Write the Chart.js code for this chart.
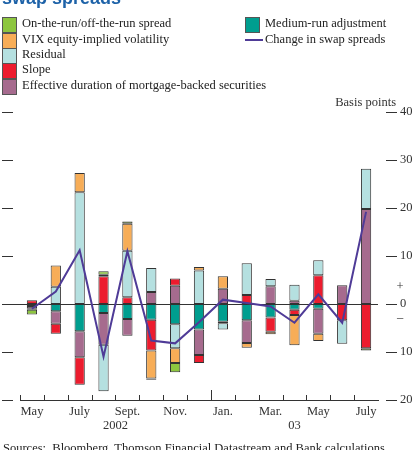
<!DOCTYPE html>
<html>
<head>
<meta charset="utf-8">
<script src="https://cdn.jsdelivr.net/npm/chart.js@4/dist/chart.umd.min.js"></script>
<style>
  body { margin: 0; background: #fff; }
  #wrap { position: relative; width: 416px; height: 450px; overflow: hidden; font-family: "Liberation Serif", serif; color: #222; }
  #wrap canvas { position: absolute; left: 0; top: 0; }
  .title { position: absolute; left: 2px; top: -13px; font: bold 18px "Liberation Sans", Arial, sans-serif; color: #1d62a8; white-space: nowrap; }
  .title sup { font-size: 11px; font-weight: normal; }
  .sw { position: absolute; width: 13px; height: 14px; border: 1px solid #555; }
  .lt { position: absolute; font-size: 12.5px; line-height: 15px; white-space: nowrap; }
  .ln { position: absolute; width: 18px; height: 2px; background: #4f3b97; }
  .src { position: absolute; left: 3px; top: 441px; font-size: 12.5px; white-space: nowrap; }
</style>
</head>
<body>
<div id="wrap">
  <canvas id="chart"></canvas>
  <div class="title">swap spreads<sup>(a)</sup></div>
  <div id="legend"></div>
  <div class="src">Sources:&nbsp; Bloomberg, Thomson Financial Datastream and Bank calculations.</div>
</div>
<script>
// months May 2002 - July 2003
const months = ['May', 'June', 'July', 'Aug', 'Sept', 'Oct', 'Nov', 'Dec',
                'Jan', 'Feb', 'Mar', 'Apr', 'May', 'June', 'July'];
const tickLabels = ['May', '', 'July', '', 'Sept.', '', 'Nov.', '',
                    'Jan.', '', 'Mar.', '', 'May', '', 'July'];
const years = ['2002', '03'];
const yTicks = [40, 30, 20, 10, 0, -10, -20];

// contributions, basis points (null = no segment)
const mediumRun = [-0.4, -1.5, -5.7, -1.9, -3.1, -3.3, -4.2, -5.3, -3.7, -3.4, -2.8, -1.2, -1.0, null, null];
const duration  = [-0.5, -2.6, -5.4, -6.6, -3.5, 2.5, 3.8, -5.3, 3.2, -4.7, 3.7, 0.7, -5.2, 3.9, 19.8];
const slope     = [0.8, -2.1, -5.7, 5.8, 1.4, -6.4, 1.5, -1.7, -0.3, 1.9, -3.0, -1.1, 6.0, -3.4, -9.2];
const residual  = [null, 3.6, 23.3, -9.7, 9.7, 5.0, -5.0, 7.0, -1.3, 6.6, 1.5, 3.3, 3.1, -4.9, 8.4];
const vix       = [-0.3, 4.4, 4.0, 0.3, 5.6, -5.8, -3.1, 0.7, 2.6, -1.0, -0.5, -6.3, -1.5, null, null];
const onOffRun  = [-1.0, null, null, 0.7, 0.5, -0.3, -1.9, null, null, null, null, null, null, null, -0.5];
const change    = [-1.0, 2.6, 11.2, -11.0, 11.0, -7.6, -8.2, -3.8, 0.9, 0.2, -0.5, -3.9, 2.0, -3.9, 19.2];

const cols = {
    green: '#8dc63f', orange: '#f7ad57', resid: '#b5e0e0',
    red: '#ec1c2e', purple: '#a66b8e', teal: '#009e8f', line: '#4f3b97'
};

// legend in html
const leg = [
    ['On-the-run/off-the-run spread', cols.green, 2, 24],
    ['VIX equity-implied volatility', cols.orange, 2, 40],
    ['Residual', cols.resid, 2, 55],
    ['Slope', cols.red, 2, 70],
    ['Effective duration of mortgage-backed securities', cols.purple, 2, 86],
    ['Medium-run adjustment', cols.teal, 245, 24]
];
let html = '';
leg.forEach(l => {
    html += `<div class="sw" style="left:${l[2]}px;top:${l[3] - 7}px;background:${l[1]}"></div>`;
    html += `<div class="lt" style="left:${l[2] + 20}px;top:${l[3] - 8}px">${l[0]}</div>`;
});
html += `<div class="ln" style="left:245px;top:39px"></div>`;
html += `<div class="lt" style="left:265px;top:32px">Change in swap spreads</div>`;
document.getElementById('legend').innerHTML = html;

const font = { family: 'Liberation Serif', size: 12.5 };

function bar(label, data, color) {
    return {
        type: 'bar', label: label, data: data, backgroundColor: color,
        borderColor: '#333', borderWidth: 1, borderSkipped: false,
        categoryPercentage: 1, barPercentage: 0.43, order: 1
    };
}

const extras = {
    id: 'extras',
    beforeDatasetsDraw(chart) {
        const ctx = chart.ctx, a = chart.chartArea, y = chart.scales.y;
        ctx.save();
        ctx.strokeStyle = '#333';
        ctx.lineWidth = 1;
        const y0 = Math.round(y.getPixelForValue(0)) + 0.5;
        ctx.beginPath();
        ctx.moveTo(2, y0);
        ctx.lineTo(a.right, y0);
        ctx.stroke();
        ctx.restore();
    },
    afterDraw(chart) {
        const ctx = chart.ctx, a = chart.chartArea, x = chart.scales.x, y = chart.scales.y;
        ctx.save();
        ctx.strokeStyle = '#333';
        ctx.lineWidth = 1;
        // dashes either side
        yTicks.forEach(v => {
            const py = Math.round(y.getPixelForValue(v)) + 0.5;
            ctx.beginPath();
            ctx.moveTo(2, py); ctx.lineTo(13, py);
            ctx.moveTo(a.right + 8, py); ctx.lineTo(a.right + 19, py);
            ctx.stroke();
        });
        // x ticks at month boundaries, pointing up
        const step = x.getPixelForValue(1) - x.getPixelForValue(0);
        for (let i = 0; i < months.length; i++) {
            const px = Math.round(x.getPixelForValue(i) - step / 2) + 0.5;
            const h = i === 8 ? 10 : 5;
            ctx.beginPath();
            ctx.moveTo(px, a.bottom); ctx.lineTo(px, a.bottom - h);
            ctx.stroke();
        }
        ctx.fillStyle = '#333';
        ctx.font = '12.5px "Liberation Serif"';
        ctx.textAlign = 'center';
        ctx.textBaseline = 'middle';
        const b0 = x.getPixelForValue(0) - step / 2;
        const b8 = x.getPixelForValue(8) - step / 2;
        ctx.fillText(years[0], (b0 + b8) / 2, a.bottom + 26);
        ctx.fillText(years[1], (b8 + a.right) / 2, a.bottom + 26);
        ctx.fillText('+', a.right + 22, y.getPixelForValue(3.6));
        ctx.fillText('\u2013', a.right + 22, y.getPixelForValue(-2.8));
        ctx.textAlign = 'right';
        ctx.fillText('Basis points', a.right + 18, y.getPixelForValue(40) - 9);
        ctx.restore();
    }
};

new Chart(document.getElementById('chart'), {
    data: {
        labels: months,
        datasets: [
            {
                type: 'line', label: 'Change in swap spreads', data: change,
                borderColor: cols.line, borderWidth: 2, pointRadius: 0,
                tension: 0, fill: false, order: 0
            },
            bar('Medium-run adjustment', mediumRun, cols.teal),
            bar('Effective duration of mortgage-backed securities', duration, cols.purple),
            bar('Slope', slope, cols.red),
            bar('Residual', residual, cols.resid),
            bar('VIX equity-implied volatility', vix, cols.orange),
            bar('On-the-run/off-the-run spread', onOffRun, cols.green)
        ]
    },
    options: {
        responsive: true,
        maintainAspectRatio: false,
        animation: false,
        layout: { padding: { left: 20, top: 112, right: 0, bottom: 0 } },
        plugins: { legend: { display: false }, tooltip: { enabled: false } },
        scales: {
            x: {
                stacked: true,
                offset: true,
                grid: { display: false, drawTicks: false },
                border: { display: true, color: '#333', width: 1 },
                ticks: {
                    autoSkip: false, maxRotation: 0, padding: 4,
                    color: '#333', font: font,
                    callback: (v, i) => tickLabels[i]
                },
                afterFit: s => { s.height = 50; }
            },
            y: {
                stacked: true,
                position: 'right',
                min: -20, max: 40,
                grid: { display: false, drawTicks: false },
                border: { display: false },
                ticks: {
                    stepSize: 10, padding: 22, color: '#333', font: font,
                    callback: v => Math.abs(v)
                },
                afterFit: s => { s.width = 38; }
            }
        }
    },
    plugins: [extras]
});
</script>
</body>
</html>
